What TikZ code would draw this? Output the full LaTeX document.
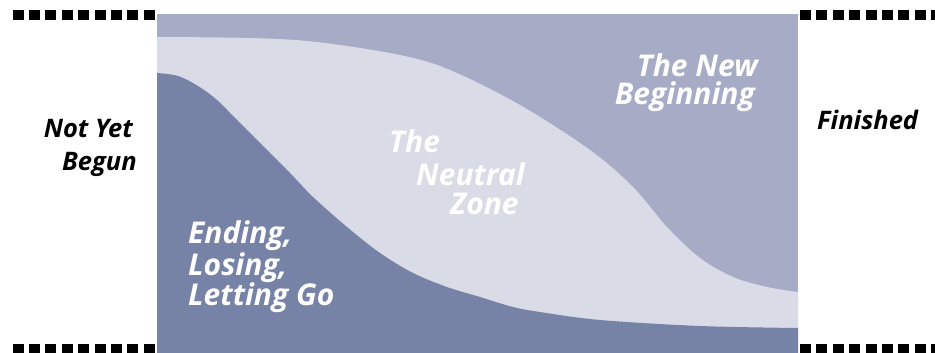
\documentclass[tikz,border=0pt]{standalone}
\usepackage{fontspec}
\setmainfont{Open Sans}
\definecolor{topband}{HTML}{A6ABC6}
\definecolor{neutral}{HTML}{D9DBE6}
\definecolor{darkband}{HTML}{7682A6}
\begin{document}
\begin{tikzpicture}[x=1pt,y=-1pt,
  blk/.style={inner sep=0pt,font=\fontsize{25.5}{28}\selectfont\bfseries\itshape,text=black},
  wht/.style={inner sep=0pt,font=\fontsize{30}{30}\selectfont\bfseries\itshape,text=white},
  sq/.style={fill=black}]
\useasboundingbox (0,0) rectangle (935,353);
\fill[white] (0,0) rectangle (935,353);
% dashes
\foreach \i in {0,...,8}{
  \fill[sq] ({12.5+16.4*\i},10) rectangle ++(11,10);
  \fill[sq] ({12.5+16.4*\i},343.5) rectangle ++(11,10);
  \fill[sq] ({800+16.4*\i},10) rectangle ++(11,10);
  \fill[sq] ({800+16.4*\i},343.5) rectangle ++(11,10);
}
% bands
\fill[topband] (157,14) rectangle (798,353);
\fill[neutral] plot[smooth,tension=0.55] coordinates {(157,37) (250,38) (317,42) (400,55) (450,70) (520,105) (590,150) (633,187) (667,227) (700,258) (733,277) (767,287) (798,292)} -- (798,353) -- (157,353) -- cycle;
\fill[darkband] plot[smooth,tension=0.55] coordinates {(157,73) (178,76) (198,86) (217,100) (237,120) (257,140) (290,173) (313,197) (347,227) (380,253) (413,273) (447,287) (480,297) (513,307) (540,312) (600,320) (700,326) (798,328)} -- (798,353) -- (157,353) -- cycle;
% labels
\node[blk,anchor=base east] (nyb1) at (133,137) {Not Yet};
\node[blk,anchor=base east] (nyb2) at (137,170) {Begun};
\node[blk,anchor=base west] (fin) at (817,129) {Finished};
\node[wht,anchor=base east] (nb1) at (758,77) {The New};
\node[wht,anchor=base east] (nb2) at (755,104) {Beginning};
\node[wht,anchor=base west] (nz1) at (389,152) {The};
\node[wht,anchor=base west] (nz2) at (416,185) {Neutral};
\node[wht,anchor=base west] (nz3) at (450,214) {Zone};
\node[wht,anchor=base west] (el1) at (188,243) {Ending,};
\node[wht,anchor=base west] (el2) at (188,275) {Losing,};
\node[wht,anchor=base west] (el3) at (188,305) {Letting Go};
\end{tikzpicture}
\end{document}
